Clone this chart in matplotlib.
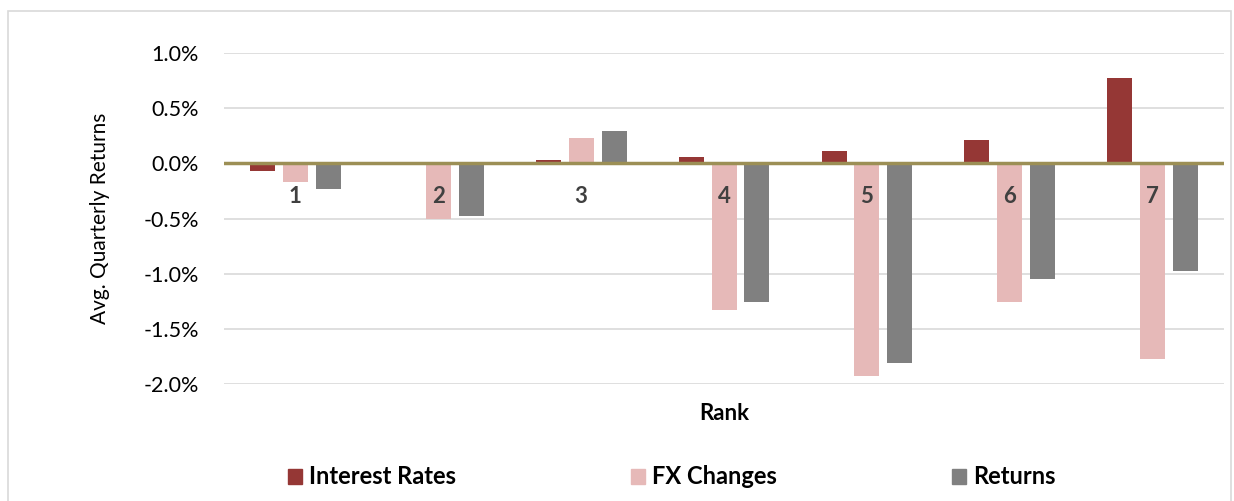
import matplotlib
matplotlib.use("Agg")
import matplotlib.pyplot as plt
from matplotlib.patches import Rectangle, Patch
from matplotlib.ticker import FuncFormatter
import numpy as np

ranks = ["1", "2", "3", "4", "5", "6", "7"]
interest_rates = [-0.07, 0.0, 0.03, 0.06, 0.11, 0.21, 0.77]
fx_changes = [-0.17, -0.50, 0.23, -1.33, -1.93, -1.26, -1.77]
returns = [-0.23, -0.48, 0.29, -1.26, -1.81, -1.05, -0.98]
series_names = ["Interest Rates", "FX Changes", "Returns"]
colors = ["#953735", "#E6B9B8", "#808080"]

plt.rcParams['font.family'] = ['Lato', 'DejaVu Sans']

fig = plt.figure(figsize=(12.34, 5.01), dpi=100)
ax = fig.add_axes([224/1234, 1-384/501, 1000/1234, (384-53)/501])

x = np.arange(len(ranks))
w = 0.175
off = 0.23
for vals, c, dx in zip([interest_rates, fx_changes, returns], colors, [-off, 0, off]):
    ax.bar(x + dx, vals, width=w, color=c, zorder=3)

ax.set_xlim(-0.5, len(ranks) - 0.5)
ax.set_ylim(-2.0, 1.0)
ax.set_yticks(np.arange(-2.0, 1.01, 0.5))
ax.yaxis.set_major_formatter(FuncFormatter(lambda v, p: f"{v:.1f}%"))
ax.grid(axis='y', color='#D9D9D9', linewidth=1.2, zorder=0)
ax.axhline(0, color='#9C8F55', linewidth=2.5, zorder=4)
for s in ax.spines.values():
    s.set_visible(False)
ax.tick_params(axis='y', length=0, labelsize=15.5, colors='#000000', pad=18)
ax.set_xticks([])
for i, r in enumerate(ranks):
    ax.annotate(r, (i, 0), xytext=(0, -24), textcoords='offset points',
                ha='center', va='center', fontsize=16, fontweight='bold',
                color='#404040', zorder=5)

ax.set_ylabel("Avg. Quarterly Returns", fontsize=15, labelpad=24)
fig.text((224+1224)/2/1234, 1-413/501, "Rank", ha='center', va='center',
         fontsize=16, fontweight='bold')

handles = [Patch(color=c, label=n) for c, n in zip(colors, series_names)]
fig.legend(handles=handles, loc='center', bbox_to_anchor=(672/1234, 1-477/501),
           ncol=3, frameon=False, prop={'weight': 'bold', 'size': 17},
           handlelength=0.6, handleheight=0.6, handletextpad=0.3, columnspacing=7.4)

fig.patches.append(Rectangle((8/1234, -0.01), (1231-8)/1234, 1-11/501 + 0.01,
                             transform=fig.transFigure, fill=False,
                             edgecolor='#D9D9D9', linewidth=1.2))

fig.savefig("out.png", dpi=100)
